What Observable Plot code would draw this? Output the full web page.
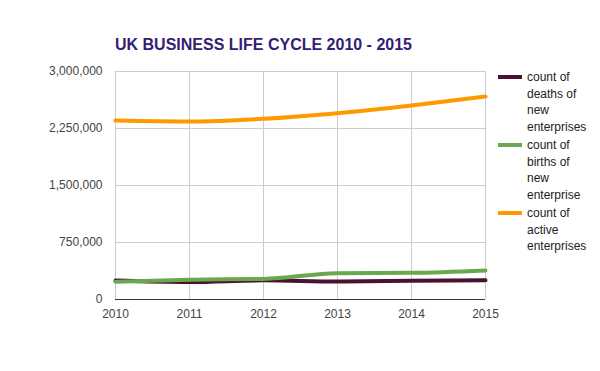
<!DOCTYPE html>
<html>
<head>
<meta charset="utf-8">
<script src="https://cdn.jsdelivr.net/npm/d3@7"></script>
<script src="https://cdn.jsdelivr.net/npm/@observablehq/plot@0.6"></script>
<style>
  body { margin: 0; background: #fff; font-family: "Liberation Sans", Arial, sans-serif; }
  #wrap { position: relative; width: 600px; height: 371px; }
  #title { position: absolute; left: 115px; top: 36px; font-size: 16px; font-weight: bold; color: #351c75; white-space: nowrap; }
  #legend { position: absolute; left: 498px; top: 69px; font-size: 12px; color: #222; }
  .item { position: relative; padding-left: 29px; line-height: 16.5px; margin-bottom: 2px; }
  .sw { position: absolute; left: 0; top: 6px; width: 24px; height: 4px; }
</style>
</head>
<body>
<div id="wrap">
  <div id="chart"></div>
  <div id="title"></div>
  <div id="legend"></div>
</div>
<script>
const years = [2010, 2011, 2012, 2013, 2014, 2015];
const deaths = [249000, 230000, 252000, 238000, 246000, 252000];
const births = [235000, 261000, 270000, 346000, 351000, 383000];
const active = [2355000, 2342000, 2378000, 2452000, 2553000, 2671000];
const seriesNames = ["count of deaths of new enterprises", "count of births of new enterprise", "count of active enterprises"];
const seriesColors = ["#4c1130", "#6aa84f", "#ff9900"];
const yTicks = [0, 750000, 1500000, 2250000, 3000000];
const titleText = "UK BUSINESS LIFE CYCLE 2010 - 2015";
const legendLines = [
  ["count of", "deaths of", "new", "enterprises"],
  ["count of", "births of", "new", "enterprise"],
  ["count of", "active", "enterprises"]
];

const seriesValues = [deaths, births, active];
const rows = [];
seriesValues.forEach((vals, s) => {
  years.forEach((y, i) => rows.push({year: y, value: vals[i], series: seriesNames[s]}));
});

const chart = Plot.plot({
  width: 600,
  height: 371,
  marginLeft: 115,
  marginRight: 115,
  marginTop: 71,
  marginBottom: 72,
  style: {fontFamily: "'Liberation Sans', Arial, sans-serif", fontSize: "12px", color: "#444", background: "#fff"},
  x: {domain: [2010, 2015], label: null},
  y: {domain: [0, 3000000], label: null},
  color: {domain: seriesNames, range: seriesColors},
  marks: [
    Plot.gridX(years, {stroke: "#cccccc", strokeOpacity: 1}),
    Plot.gridY(yTicks, {stroke: "#cccccc", strokeOpacity: 1}),
    Plot.axisX({ticks: years, tickFormat: "d", tickSize: 0, tickPadding: 10, fill: "#444", label: null}),
    Plot.axisY({ticks: yTicks, tickFormat: d3.format(","), tickSize: 0, tickPadding: 13, fill: "#444", label: null}),
    Plot.ruleY([0], {stroke: "#333"}),
    Plot.line(rows, {x: "year", y: "value", z: "series", stroke: "series", strokeWidth: 4, curve: "monotone-x"})
  ]
});
document.getElementById("chart").appendChild(chart);
document.getElementById("title").textContent = titleText;

const legend = document.getElementById("legend");
seriesNames.forEach((name, i) => {
  const item = document.createElement("div");
  item.className = "item";
  const sw = document.createElement("div");
  sw.className = "sw";
  sw.style.background = seriesColors[i];
  item.appendChild(sw);
  const t = document.createElement("div");
  t.innerHTML = legendLines[i].join("<br>");
  item.appendChild(t);
  legend.appendChild(item);
});
</script>
</body>
</html>
